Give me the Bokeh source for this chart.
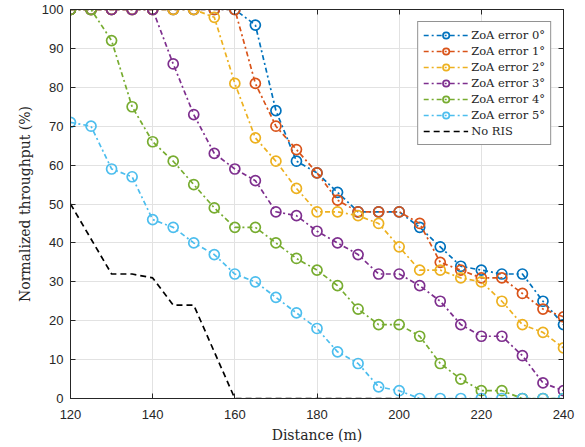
from bokeh.plotting import figure
from bokeh.models import Range1d, FixedTicker, LinearAxis, Legend, LegendItem
from bokeh.embed import file_html
from bokeh.resources import INLINE

distance = [120, 125, 130, 135, 140, 145, 150, 155, 160, 165, 170, 175, 180,
            185, 190, 195, 200, 205, 210, 215, 220, 225, 230, 235, 240]
zoa0 = [100, 100, 100, 100, 100, 100, 100, 100, 100, 96, 74, 61, 58,
        53, 48, 48, 48, 44, 39, 34, 33, 32, 32, 25, 19]
zoa1 = [100, 100, 100, 100, 100, 100, 100, 100, 100, 81, 70, 64, 58,
        51, 48, 48, 48, 45, 35, 33, 31, 31, 27, 23, 21]
zoa2 = [100, 100, 100, 100, 100, 100, 100, 98, 81, 67, 61, 54, 48,
        48, 47, 45, 39, 33, 33, 31, 30, 25, 19, 17, 13]
zoa3 = [100, 100, 100, 100, 100, 86, 73, 63, 59, 56, 48, 47, 43,
        40, 37, 32, 32, 29, 25, 19, 16, 16, 11, 4, 2]
zoa4 = [100, 100, 92, 75, 66, 61, 55, 49, 44, 44, 40, 36, 33,
        29, 23, 19, 19, 16, 9, 5, 2, 2, 0, 0, 0]
zoa5 = [71, 70, 59, 57, 46, 44, 40, 37, 32, 30, 26, 22, 18,
        12, 9, 3, 2, 0, 0, 0, 0, 0, 0, 0, 0]
noris_distance = [120, 125, 130, 135, 140, 145, 150, 155, 160, 165, 170,
                  175, 180, 185, 190, 195, 200]
noris = [50, 41, 32, 32, 31, 24, 24, 12, 0, 0, 0, 0, 0, 0, 0, 0, 0]

labels = ["ZoA error 0°", "ZoA error 1°", "ZoA error 2°", "ZoA error 3°",
          "ZoA error 4°", "ZoA error 5°"]
colors = ["#0072BD", "#D95319", "#EDB120", "#7E2F8E", "#77AC30", "#4DBEEE"]
x_ticks = [120, 140, 160, 180, 200, 220, 240]
y_ticks = [0, 10, 20, 30, 40, 50, 60, 70, 80, 90, 100]

AX = "#262626"
p = figure(width=585, height=447, output_backend="svg", toolbar_location=None,
           x_range=Range1d(120, 240), y_range=Range1d(0, 100),
           min_border_left=70, min_border_right=22, min_border_top=9,
           min_border_bottom=49)
p.background_fill_color = "white"
p.border_fill_color = "white"
p.outline_line_color = AX
p.outline_line_width = 1

for ax in (p.xaxis[0], p.yaxis[0]):
    ax.major_tick_in = 5
    ax.major_tick_out = 0
    ax.minor_tick_in = 0
    ax.minor_tick_out = 0
    ax.axis_line_color = AX
    ax.major_tick_line_color = AX
    ax.major_label_text_font = "Liberation Sans"
    ax.major_label_text_font_size = "13px"
    ax.major_label_text_color = AX
    ax.axis_label_text_font = "DejaVu Serif"
    ax.axis_label_text_font_size = "14px"
    ax.axis_label_text_font_style = "normal"
    ax.axis_label_text_color = AX

p.xaxis[0].ticker = FixedTicker(ticks=x_ticks)
p.yaxis[0].ticker = FixedTicker(ticks=y_ticks)
p.xaxis[0].axis_label = "Distance (m)"
p.yaxis[0].axis_label = "Normalized throughput (%)"
p.xaxis[0].major_label_standoff = 11
p.xaxis[0].axis_label_standoff = 5
p.yaxis[0].major_label_standoff = 7
p.yaxis[0].axis_label_standoff = 6

for loc, rng_ticks in (("above", x_ticks), ("right", y_ticks)):
    a = LinearAxis(ticker=FixedTicker(ticks=rng_ticks))
    a.major_tick_in = 5
    a.major_tick_out = 0
    a.minor_tick_in = 0
    a.minor_tick_out = 0
    a.major_label_overrides = {t: "" for t in rng_ticks}
    a.major_label_standoff = 0
    a.axis_line_color = AX
    a.major_tick_line_color = AX
    p.add_layout(a, loc)

p.xgrid.ticker = FixedTicker(ticks=x_ticks)
p.ygrid.ticker = FixedTicker(ticks=y_ticks)
for g in (p.xgrid[0], p.ygrid[0]):
    g.grid_line_color = "#e2e2e2"
    g.grid_line_width = 1

items = []
series = [zoa0, zoa1, zoa2, zoa3, zoa4, zoa5]
for ys, lab, col in zip(series, labels, colors):
    r1 = p.line(distance, ys, line_color=col, line_width=1.7,
                line_dash="5 3 2 3")
    r2 = p.scatter(distance, ys, marker="circle", size=10, line_color=col,
                   line_width=1.7, fill_alpha=0)
    items.append(LegendItem(label=lab, renderers=[r1, r2]))

rn = p.line(noris_distance, noris, line_color="black", line_width=1.7,
            line_dash="6 4")
items.append(LegendItem(label="No RIS", renderers=[rn]))

legend = Legend(items=items, location="top_right", margin=12, padding=5,
                spacing=0, label_height=16, glyph_height=16, glyph_width=45,
                label_standoff=3, label_text_font="DejaVu Serif",
                label_text_font_size="11.5px", label_text_color=AX,
                border_line_color=AX, border_line_width=1,
                background_fill_color="white", background_fill_alpha=1)
p.add_layout(legend, "center")

open("out.html", "w").write(file_html(p, INLINE))
